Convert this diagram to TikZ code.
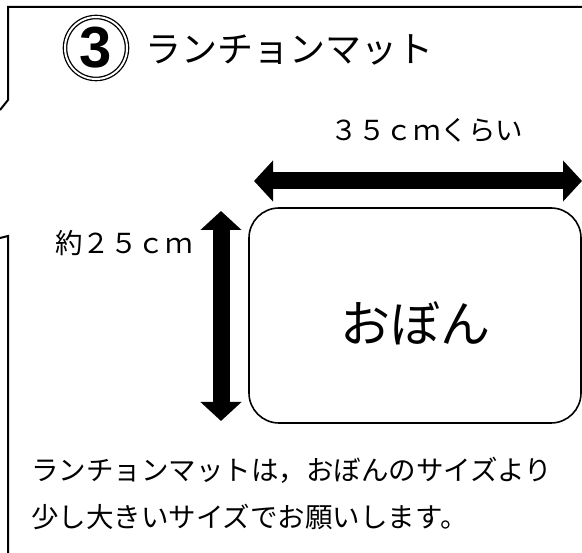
\documentclass[tikz,border=0pt]{standalone}
\usepackage{fontspec}
\newfontfamily\jp{Noto Sans CJK JP}
\newfontfamily\numf{Liberation Sans}
\usetikzlibrary{arrows.meta}
\tikzset{
  frame/.style={line width=2pt, black},
  bigarrow/.style={line width=17pt, {Triangle[width=40pt,length=19pt]}-{Triangle[width=40pt,length=19pt]}},
  tray/.style={draw, line width=1.6pt, rounded corners=30pt},
  jptext/.style={font=\jp\fontsize{27.5}{32}\selectfont, inner sep=0pt},
}
\begin{document}
\begin{tikzpicture}[x=1pt,y=-1pt]
\useasboundingbox (0,0) rectangle (582,553);
% frame
\draw[frame] (0,110) -- (8,100) -- (8,7) -- (583,7);
\draw[frame] (0,238) -- (8,236) -- (8,554);
% circled number
\node[circle, draw, line width=1.3pt, minimum size=62pt, double, double distance=2pt, inner sep=0pt,
      font=\numf\bfseries\fontsize{58}{58}\selectfont] (num) at (96,48) {3};
\node[anchor=west, font=\jp\fontsize{36}{40}\selectfont, inner sep=0pt] (title) at (145,50) {ランチョンマット};
% width label and arrow
\node[jptext] (wlab) at (427,130) {３５ｃｍくらい};
\coordinate (hl) at (254,181);
\coordinate (hr) at (582,181);
\draw[bigarrow] (hl) -- (hr);
% height label and arrow
\node[jptext, anchor=east] (hlab) at (193,243) {約２５ｃｍ};
\coordinate (vt) at (221,211);
\coordinate (vb) at (221,421);
\draw[bigarrow] (vt) -- (vb);
% tray
\node[tray, minimum width=332pt, minimum height=215pt, inner sep=0pt] (tray) at (415,315.5) {};
\node[font=\jp\fontsize{50}{55}\selectfont, inner sep=0pt] (obon) at (415,323) {おぼん};
% bottom text
\node[jptext, anchor=west] (l1) at (31,470) {ランチョンマットは，おぼんのサイズより};
\node[jptext, anchor=west] (l2) at (31,517) {少し大きいサイズでお願いします。};
\end{tikzpicture}
\end{document}
